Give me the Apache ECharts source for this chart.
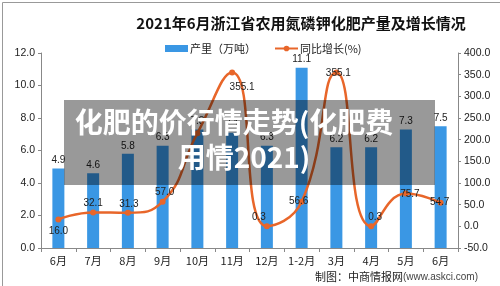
<!DOCTYPE html>
<html>
<head>
<meta charset="utf-8">
<script src="https://cdn.jsdelivr.net/npm/echarts@6/dist/echarts.min.js"></script>
<style>
html,body{margin:0;padding:0;background:#fff;}
#c{width:500px;height:286px;}
</style>
</head>
<body>
<div id="c"></div>
<script>
var categories = ['6月','7月','8月','9月','10月','11月','12月','1-2月','3月','4月','5月','6月'];
var output = [4.9, 4.6, 5.8, 6.3, 7.3, 7.1, 6.3, 11.1, 6.2, 6.2, 7.3, 7.5];
var growth = [16.0, 32.1, 31.3, 57.0, 215.0, 355.1, 0.3, 56.6, 355.1, 0.3, 75.7, 54.7];
var leftTicks = {min: 0, max: 12, interval: 2};
var rightTicks = {min: -50, max: 400, interval: 50};
var titleText = '2021年6月浙江省农用氮磷钾化肥产量及增长情况';
var seriesNames = ['产里（万吨）', '同比增长(%)'];
var overlayLines = ['化肥的价行情走势(化肥费', '用情2021)'];

var FONT = 'Liberation Sans, "Noto Sans CJK SC", sans-serif';
var CJK = '"Noto Sans CJK SC", sans-serif';
var BLUE = '#3a97e4';
var ORANGE = '#e8662a';

// label offsets for the growth line (style only)
var lineLabelOffsets = [[0,12],[0,-9],[1,-9],[2,-9],[0,-9],[10,15],[-8,-9],[-3,-1],[2,1],[4,-9],[4,1],[-1,0]];
var lineLabelShow = [true,true,true,true,false,true,true,true,true,true,true,true];

var chart = echarts.init(document.getElementById('c'), null, {renderer: 'canvas'});

var lineData = growth.map(function (v, i) {
  return {
    value: v,
    label: {show: lineLabelShow[i], position: 'inside', offset: lineLabelOffsets[i]}
  };
});

var option = {
  animation: false,
  backgroundColor: '#fff',
  grid: {left: 41, right: 42, top: 53, bottom: 38, containLabel: false},
  legend: {
    left: 160, top: 38,
    itemWidth: 23, itemHeight: 7, itemGap: 18,
    textStyle: {fontSize: 11, color: '#222', fontFamily: CJK, padding: [0,0,0,-3]},
    data: [
      {name: seriesNames[0], icon: 'rect'},
      {name: seriesNames[1]}
    ]
  },
  xAxis: {
    type: 'category',
    data: categories,
    axisLine: {lineStyle: {color: '#888'}},
    axisTick: {show: true, alignWithLabel: false, length: 4, lineStyle: {color: '#888'}},
    axisLabel: {color: '#222', fontSize: 11, fontFamily: CJK, margin: 7, interval: 0}
  },
  yAxis: [
    {
      type: 'value', min: leftTicks.min, max: leftTicks.max, interval: leftTicks.interval,
      axisLine: {show: true, lineStyle: {color: '#888'}},
      axisTick: {show: true, length: 3, lineStyle: {color: '#888'}},
      splitLine: {show: false},
      axisLabel: {color: '#222', fontSize: 10.5, fontFamily: FONT, margin: 6,
        formatter: function (v) { return v.toFixed(1); }}
    },
    {
      type: 'value', min: rightTicks.min, max: rightTicks.max, interval: rightTicks.interval,
      position: 'right',
      axisLine: {show: true, lineStyle: {color: '#888'}},
      axisTick: {show: true, length: 3, lineStyle: {color: '#888'}},
      splitLine: {show: false},
      axisLabel: {color: '#222', fontSize: 10.5, fontFamily: FONT, margin: 6,
        formatter: function (v) { return v.toFixed(1); }}
    }
  ],
  series: [
    {
      name: seriesNames[0], type: 'bar', yAxisIndex: 0,
      data: output, barWidth: 12,
      itemStyle: {color: BLUE},
      label: {show: true, position: 'top', distance: 3, fontSize: 10, color: '#222', fontFamily: FONT,
        formatter: function (p) { return p.value.toFixed(1); }},
      z: 2
    },
    {
      name: seriesNames[1], type: 'line', yAxisIndex: 1,
      data: lineData, smooth: 0.5,
      symbol: 'circle', symbolSize: 6,
      lineStyle: {color: ORANGE, width: 2.5},
      itemStyle: {color: ORANGE},
      label: {fontSize: 10, color: '#222', fontFamily: FONT,
        formatter: function (p) { return p.value.toFixed(1); }},
      z: 3
    }
  ],
  graphic: [
    {
      type: 'rect', left: 0, top: 0, z: 100, silent: true,
      shape: {x: 0.5, y: 0.5, width: 499, height: 285},
      style: {fill: 'none', stroke: '#999', lineWidth: 1}
    },
    {
      type: 'text', z: 100, x: 301, y: 23,
      style: {text: titleText, fill: '#111', font: 'bold 15px "Noto Sans CJK SC", sans-serif',
        textAlign: 'center', textVerticalAlign: 'middle'}
    },
    {
      type: 'text', z: 100, x: 478, y: 277,
      style: {
        text: '{a|制图：中商情报网}{b|(www.askci.com)}',
        textAlign: 'right', textVerticalAlign: 'middle',
        rich: {
          a: {fontSize: 11, fontFamily: CJK, fill: '#222', color: '#222'},
          b: {fontSize: 10, fontFamily: FONT, fill: '#444', color: '#444'}
        }
      }
    },
    {
      type: 'rect', z: 200, silent: true,
      shape: {x: 64, y: 100, width: 371, height: 85},
      style: {fill: 'rgba(0,0,0,0.4)'}
    },
    {
      type: 'text', z: 201, x: 234, y: 122,
      style: {text: overlayLines[0], fill: '#fff', font: 'bold 28px "Noto Sans CJK SC", sans-serif',
        textAlign: 'center', textVerticalAlign: 'middle'}
    },
    {
      type: 'text', z: 201, x: 244, y: 157,
      style: {text: overlayLines[1], fill: '#fff', font: 'bold 28px "Noto Sans CJK SC", sans-serif',
        textAlign: 'center', textVerticalAlign: 'middle'}
    }
  ]
};
chart.setOption(option);
</script>
</body>
</html>
